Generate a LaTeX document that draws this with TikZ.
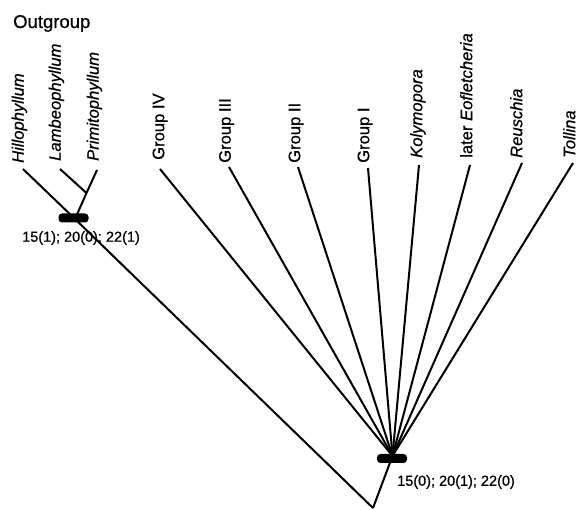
\documentclass[tikz,border=0pt]{standalone}
\usepackage{fontspec}
\setmainfont{Liberation Sans}[FakeBold=0.6]
\begin{document}
\begin{tikzpicture}[x=1pt,y=-1pt,
  branch/.style={line width=2pt},
  taxon/.style={rotate=90, anchor=west, inner sep=0pt, font=\fontsize{16.6}{18}\selectfont, text height=11.9pt, text depth=3.5pt},
  genus/.style={taxon, font=\fontsize{16.6}{18}\selectfont\itshape},
  synbar/.style={fill=black, draw=none, rounded corners=3.5pt, minimum width=30pt, minimum height=9pt, inner sep=0pt},
  charlabel/.style={anchor=west, inner sep=0pt, font=\fontsize{14.5}{16}\selectfont},
  title/.style={anchor=base west, inner sep=0pt, font=\fontsize{18.5}{20}\selectfont}]
\useasboundingbox (0,0) rectangle (582,510);

% internal nodes
\coordinate (root) at (373,508);
\coordinate (n1) at (392.5,456);
\coordinate (n2) at (75,219);
\coordinate (n3) at (86.5,193);

% tips
\coordinate (tHill) at (23,169);
\coordinate (tLamb) at (60,169);
\coordinate (tPrim) at (97,170);
\coordinate (tG4) at (160,169);
\coordinate (tG3) at (229,167);
\coordinate (tG2) at (298,167);
\coordinate (tG1) at (368,168);
\coordinate (tKol) at (419,165);
\coordinate (tEof) at (470,165);
\coordinate (tReu) at (522,163);
\coordinate (tTol) at (573,163);

% labels
\node[title] (outgroup) at (13,28) {Outgroup};
\node[genus] (lHill) at (19.5,163) {Hillophyllum};
\node[genus] (lLamb) at (56.5,161) {Lambeophyllum};
\node[genus] (lPrim) at (94.5,161) {Primitophyllum};
\node[taxon] (lG4) at (160,160) {Group IV};
\node[taxon] (lG3) at (226.5,163) {Group III};
\node[taxon] (lG2) at (296,163) {Group II};
\node[taxon] (lG1) at (365,163) {Group I};
\node[genus] (lKol) at (418,158) {Kolymopora};
\node[taxon] (lEof) at (468,158) {later \textit{Eofletcheria}};
\node[genus] (lReu) at (518,158) {Reuschia};
\node[genus] (lTol) at (571,158) {Tollina};

% branches
\draw[branch] (root) -- (n1);
\draw[branch] (root) -- (n2) -- (tHill);
\draw[branch] (n2) -- (n3) -- (tPrim);
\draw[branch] (n3) -- (tLamb);
\foreach \t in {tG4,tG3,tG2,tG1,tKol,tEof,tReu,tTol}
  \draw[branch] (n1) -- (\t);

% synapomorphy bars
\node[synbar] (bar1) at (73.5,218) {};
\node[synbar] (bar2) at (392,458.5) {};
\node[charlabel] (c1) at (22,238) {15(1); 20(0); 22(1)};
\node[charlabel] (c2) at (397,482) {15(0); 20(1); 22(0)};
\end{tikzpicture}
\end{document}
